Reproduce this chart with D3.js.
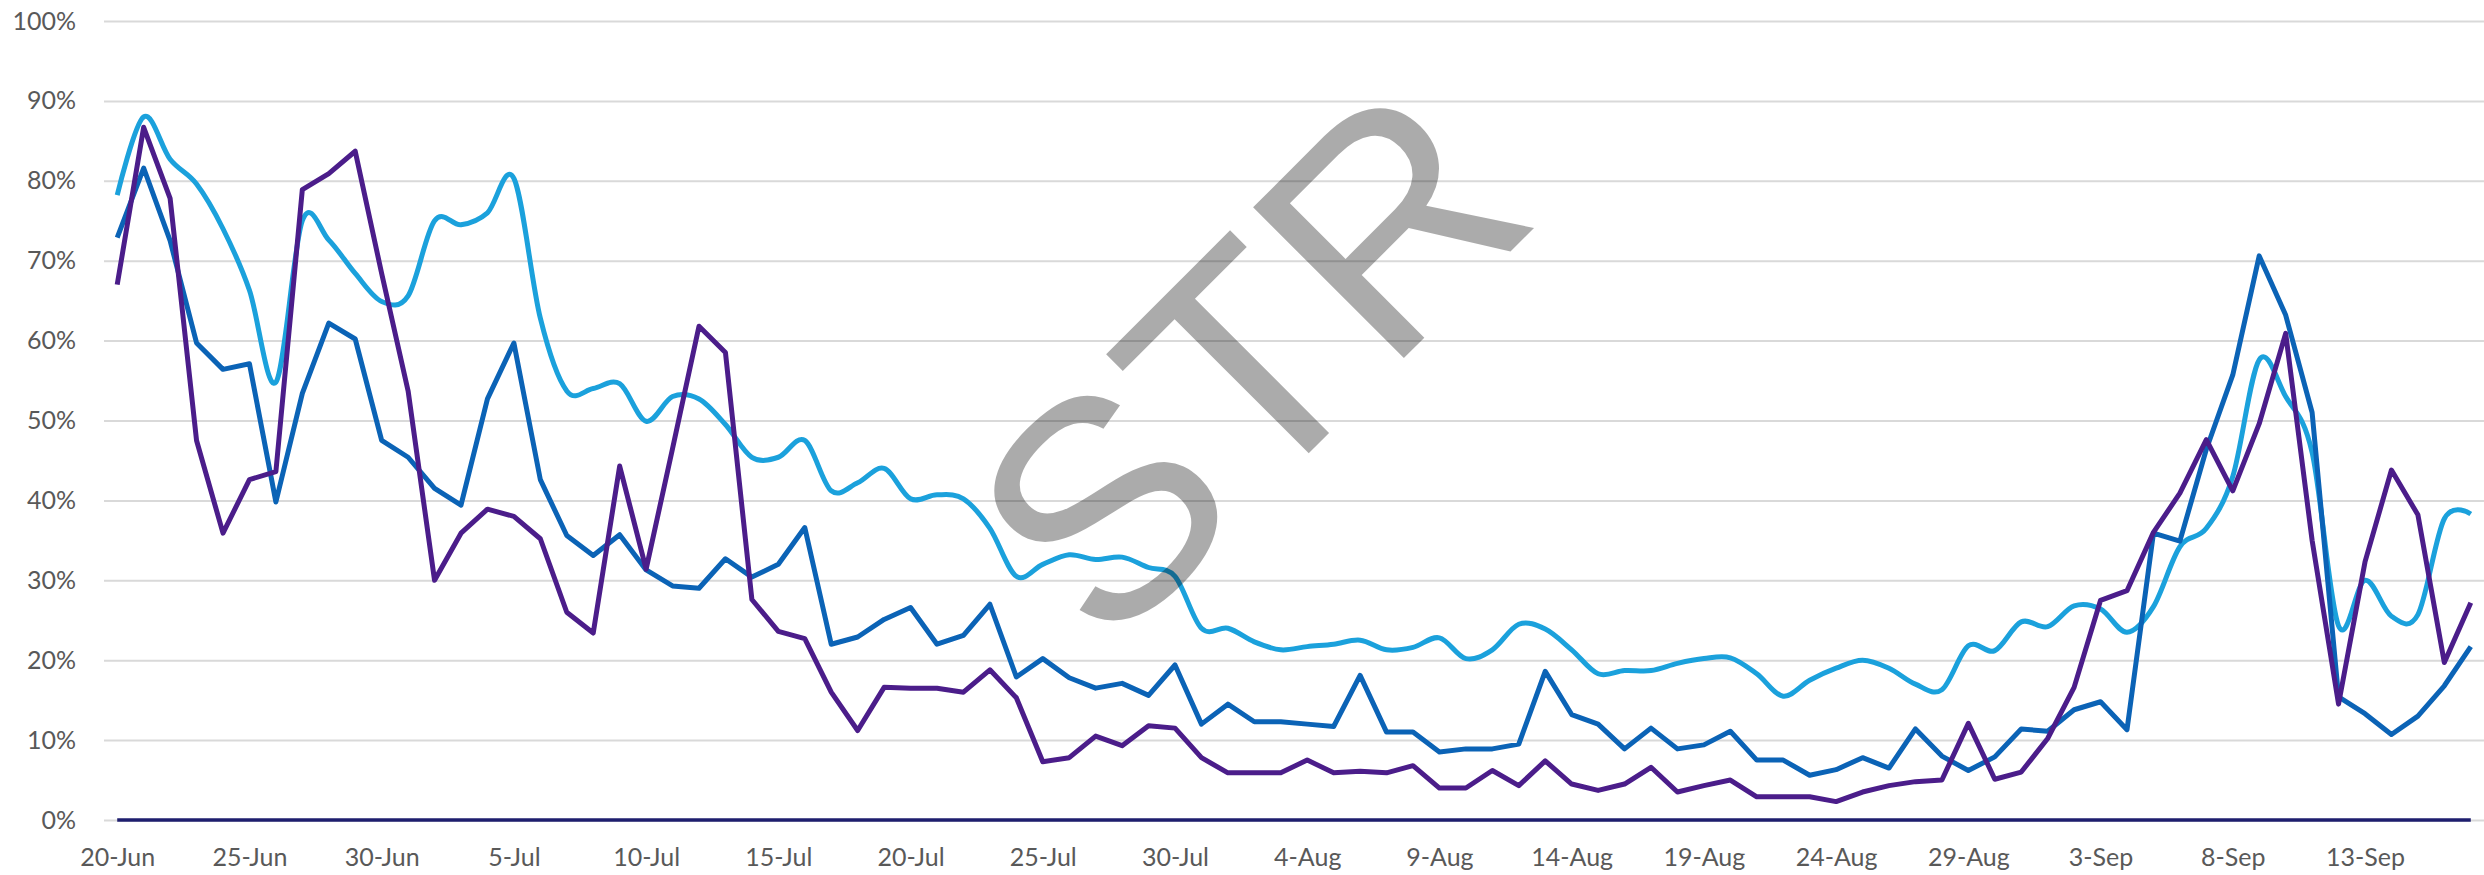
<!DOCTYPE html>
<html>
<head>
<meta charset="utf-8">
<script src="https://cdn.jsdelivr.net/npm/d3@7"></script>
<style>
  html, body { margin: 0; padding: 0; background: #fff; }
  svg { display: block; }
</style>
</head>
<body>
<svg width="2484" height="875"></svg>
<script>
// one point per day, 20-Jun to 17-Sep
const startDay = new Date(2020, 5, 20);
const dates = d3.timeDay.range(startDay, d3.timeDay.offset(startDay, 90));
const xTickDates = dates.filter((d, i) => i % 5 === 0);
const yTicks = [0, 10, 20, 30, 40, 50, 60, 70, 80, 90, 100];

// values in %
const lightBlue = [78.2, 88, 82.7, 79.6, 74, 66.3, 54.8, 75, 72.6, 68.4,
  64.9, 65.6, 75, 74.5, 76, 80.3, 62.8, 53.7, 54, 54.6,
  49.9, 53, 52.7, 49.5, 45.4, 45.4, 47.5, 41.2, 42.2, 44,
  40.2, 40.7, 40.2, 36.5, 30.5, 32, 33.2, 32.6, 32.9, 31.6,
  30.5, 24, 24, 22.3, 21.3, 21.7, 22, 22.5, 21.3, 21.6,
  22.8, 20.2, 21.3, 24.5, 23.9, 21.3, 18.3, 18.7, 18.7, 19.6,
  20.2, 20.3, 18.3, 15.5, 17.5, 19, 20, 19, 17, 16.3,
  21.8, 21.2, 24.8, 24.2, 26.8, 26.4, 23.5, 26.7, 34.2, 36.5,
  43, 57.6, 53, 46, 24.3, 30, 25.5, 25.7, 37.7, 38.3];

const midBlue = [72.9, 81.6, 72.5, 59.7, 56.4, 57.1, 39.8, 53.4, 62.2, 60.2,
  47.5, 45.4, 41.5, 39.4, 52.7, 59.7, 42.6, 35.6, 33.1, 35.7,
  31.3, 29.3, 29, 32.7, 30.4, 32, 36.6, 22, 22.9, 25.1,
  26.6, 22, 23.1, 27, 17.9, 20.2, 17.8, 16.5, 17.1, 15.6,
  19.4, 12, 14.5, 12.3, 12.3, 12, 11.7, 18.1, 11, 11,
  8.5, 8.9, 8.9, 9.5, 18.6, 13.2, 12, 8.9, 11.5, 8.9,
  9.4, 11.1, 7.5, 7.5, 5.6, 6.3, 7.8, 6.5, 11.4, 8,
  6.2, 7.9, 11.4, 11.1, 13.8, 14.8, 11.3, 35.9, 34.9, 46.4,
  55.7, 70.6, 63.2, 51, 15.4, 13.3, 10.7, 13, 16.8, 21.7];

const purple = [67, 86.7, 77.8, 47.5, 35.9, 42.6, 43.6, 78.9, 80.9, 83.7,
  68.4, 53.7, 30, 35.9, 38.9, 38, 35.2, 26, 23.4, 44.3,
  31.4, 46.5, 61.8, 58.5, 27.6, 23.6, 22.7, 16, 11.2, 16.6,
  16.5, 16.5, 16, 18.8, 15.3, 7.3, 7.8, 10.5, 9.3, 11.8,
  11.5, 7.8, 5.9, 5.9, 5.9, 7.5, 5.9, 6.1, 5.9, 6.8,
  4, 4, 6.2, 4.3, 7.4, 4.5, 3.7, 4.5, 6.6, 3.5,
  4.3, 5, 2.9, 2.9, 2.9, 2.3, 3.5, 4.3, 4.8, 5,
  12.1, 5.1, 6, 10.2, 16.6, 27.5, 28.7, 36, 40.9, 47.6,
  41.2, 49.6, 60.9, 35, 14.5, 32.3, 43.8, 38.2, 19.7, 27.2];

const zeroLine = dates.map(() => 0);

const svg = d3.select("svg"),
    width = +svg.attr("width"),
    height = +svg.attr("height");

const plotLeft = 104, plotRight = 2484;

const x = d3.scaleTime()
    .domain([d3.timeHour.offset(dates[0], -12), d3.timeHour.offset(dates[dates.length - 1], 12)])
    .range([plotLeft, plotRight]);

const y = d3.scaleLinear()
    .domain([0, 100])
    .range([820, 21]);

const font = "Lato, 'Open Sans', sans-serif";

// gridlines + y labels
const yAxis = svg.append("g")
    .attr("transform", "translate(" + plotLeft + ",0)")
    .call(d3.axisLeft(y)
      .tickValues(yTicks)
      .tickFormat((d) => d + "%")
      .tickSize(-(plotRight - plotLeft))
      .tickPadding(28));
yAxis.select(".domain").remove();
yAxis.selectAll("line").attr("stroke", "#d9d9d9").attr("stroke-width", 2);
yAxis.selectAll("text")
    .attr("fill", "#595959")
    .style("font-family", font)
    .style("font-size", "25px");

// x labels
const xAxis = svg.append("g")
    .attr("transform", "translate(0,820)")
    .call(d3.axisBottom(x)
      .tickValues(xTickDates)
      .tickFormat(d3.timeFormat("%-d-%b"))
      .tickSize(0)
      .tickPadding(28));
xAxis.select(".domain").remove();
xAxis.selectAll("text")
    .attr("fill", "#595959")
    .style("font-family", font)
    .style("font-size", "25px");

const straight = d3.line()
    .x((d, i) => x(dates[i]))
    .y((d) => y(d));

const smooth = d3.line()
    .x((d, i) => x(dates[i]))
    .y((d) => y(d))
    .curve(d3.curveCardinal.tension(0));

svg.append("path")
    .datum(zeroLine)
    .attr("d", straight)
    .attr("fill", "none")
    .attr("stroke", "#1e1e6e")
    .attr("stroke-width", 3.5);

svg.append("path")
    .datum(lightBlue)
    .attr("d", smooth)
    .attr("fill", "none")
    .attr("stroke", "#1ba1dc")
    .attr("stroke-width", 5)
    .attr("stroke-linejoin", "round");

svg.append("path")
    .datum(midBlue)
    .attr("d", straight)
    .attr("fill", "none")
    .attr("stroke", "#0b63b6")
    .attr("stroke-width", 5)
    .attr("stroke-linejoin", "round");

svg.append("path")
    .datum(purple)
    .attr("d", straight)
    .attr("fill", "none")
    .attr("stroke", "#4b1d8a")
    .attr("stroke-width", 5)
    .attr("stroke-linejoin", "round");

// watermark
svg.append("text")
    .attr("transform", "translate(1325,437) rotate(-45)")
    .attr("text-anchor", "middle")
    .attr("fill", "#000")
    .attr("fill-opacity", 0.33)
    .style("font-family", "'Liberation Sans', Arial, sans-serif")
    .style("font-size", "310px")
    .text("STR");
</script>
</body>
</html>
